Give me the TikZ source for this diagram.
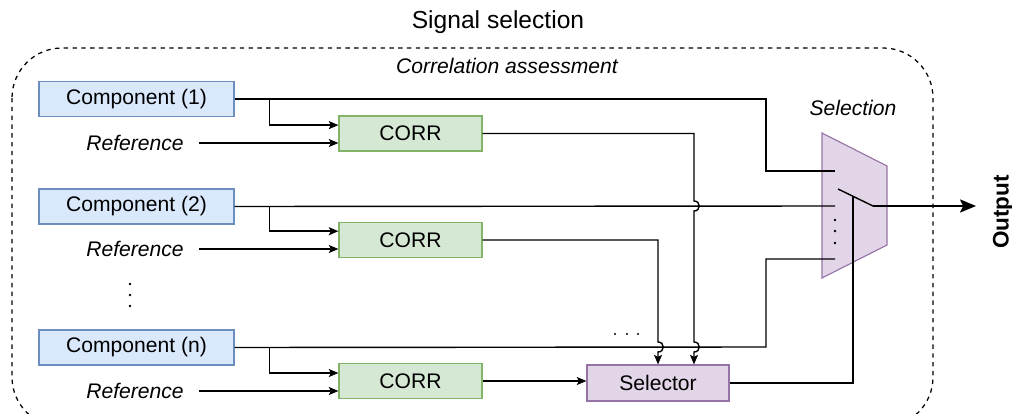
\documentclass[tikz,border=0pt]{standalone}
\usepackage{fontspec}
\setmainfont{Liberation Sans}
\usetikzlibrary{arrows.meta}
\definecolor{cComp} {HTML}{DAE8FC}
\definecolor{cCompL}{HTML}{6C8EBF}
\definecolor{cCorr} {HTML}{D5E8D4}
\definecolor{cCorrL}{HTML}{82B366}
\definecolor{cSel}  {HTML}{E1D5E7}
\definecolor{cSelL} {HTML}{9673A6}
% small hop of a vertical wire over a horizontal one at (#1,#2)
\newcommand{\hop}[2]{-- (#1,#2-5) .. controls (#1+7,#2-5) and (#1+7,#2+5) .. (#1,#2+5)}

\begin{document}
\begin{tikzpicture}[
  x=0.025cm,y=-0.025cm,
  >={Stealth[length=2.4mm,width=2mm,inset=0.5mm]},
  font=\fontsize{15}{18}\selectfont,
  comp/.style={draw=cCompL,fill=cComp,line width=0.8pt,
               minimum width=4.875cm,minimum height=0.875cm,inner sep=0pt},
  corr/.style={draw=cCorrL,fill=cCorr,line width=0.8pt,
               minimum width=3.575cm,minimum height=0.875cm,inner sep=0pt},
  selbox/.style={draw=cSelL,fill=cSel,line width=0.8pt,
               minimum width=3.55cm,minimum height=0.9cm,inner sep=0pt},
  ref/.style={font=\fontsize{15}{18}\selectfont\itshape,inner ysep=0pt,inner xsep=0.37cm},
  wire/.style={line width=1pt},
  arr/.style={->,wire},
]
\clip (0,0) rectangle (1012,414);

% --------------------------------------------------------------- frame + titles
\draw[line width=0.9pt,dash pattern=on 1.1mm off 1.1mm,rounded corners=1.25cm]
      (12,48) rectangle (933,427);
\node[font=\fontsize{17.5}{21}\selectfont] (title) at (498,22) {Signal selection};
\node[ref,inner xsep=0pt] (ca) at (507,66) {Correlation assessment};

% --------------------------------------------------------------- left column
\node[comp] (comp1) at (136.5,99)  {Component (1)};
\node[comp] (comp2) at (136.5,206.5) {Component (2)};
\node[comp] (compn) at (136.5,347.5) {Component (n)};
\node[ref]  (r1)    at (135,143) {Reference};
\node[ref]  (r2)    at (135,249) {Reference};
\node[ref]  (rn)    at (135,391) {Reference};
\foreach \y in {284,295,306} \fill (130,\y) circle (0.035cm);

% --------------------------------------------------------------- correlators
\node[corr]   (c1)  at (410.5,133.5) {CORR};
\node[corr]   (c2)  at (410.5,240)   {CORR};
\node[corr]   (cn)  at (410.5,381)   {CORR};
\node[selbox] (sel) at (658,383)     {Selector};
\foreach \x in {615,627,638} \fill (\x,334) circle (0.03cm);

% --------------------------------------------------------------- selection mux
\draw[draw=cSelL,fill=cSel,line width=0.8pt]
      (822,133) -- (887,166) -- (887,245) -- (822,278) -- cycle;
\node[ref,inner xsep=0pt] (seltxt) at (853,108) {Selection};
\coordinate (in1) at (835,171);
\coordinate (in2) at (835,206);
\coordinate (inn) at (835,259);
\coordinate (sw0) at (838,189);
\coordinate (sw1) at (873,206);
\coordinate (swm) at (853,196);
\coordinate (o)   at (976,206);
\foreach \y in {220,231,243} \fill (835,\y) circle (0.035cm);
\node[font=\fontsize{16}{19}\selectfont\bfseries,rotate=90,inner sep=0pt]
      (out) at (1003,212) {Output};

% --------------------------------------------------------------- inputs
\draw[wire] (comp1.east) -- (766,99)  -- (766,171) -- (in1);
\draw[wire] (comp2.east) -- (in2);
\draw[wire] (compn.east) -- (766,347) -- (766,259) -- (inn);

\draw[arr] (comp1.east) ++(35,0) |- ([yshift=0.21cm]c1.west);
\draw[arr] (comp2.east) ++(35,0) |- ([yshift=0.22cm]c2.west);
\draw[arr] (compn.east) ++(35,0) |- ([yshift=0.2cm]cn.west);
\draw[arr] (r1.east) -- (r1.east -| c1.west);
\draw[arr] (r2.east) -- (r2.east -| c2.west);
\draw[arr] (rn.east) -- (rn.east -| cn.west);

% --------------------------------------------------------------- to selector
\coordinate (t1) at (694,0);
\coordinate (t2) at (658,0);
\draw[arr] (c1.east) -- (694,133.5) \hop{694}{206} \hop{694}{347} -- (t1 |- sel.north);
\draw[arr] (c2.east) -- (658,240) \hop{658}{347} -- (t2 |- sel.north);
\draw[arr] (cn.east) -- (cn.east -| sel.west);

% --------------------------------------------------------------- switch + output
\draw[wire] (sel.east) -| (swm);
\draw[wire] (sw0) -- (sw1);
\draw[wire,-{Stealth[length=4mm,width=3.3mm,inset=0.8mm]}] (sw1) -- (o);

\end{tikzpicture}
\end{document}
